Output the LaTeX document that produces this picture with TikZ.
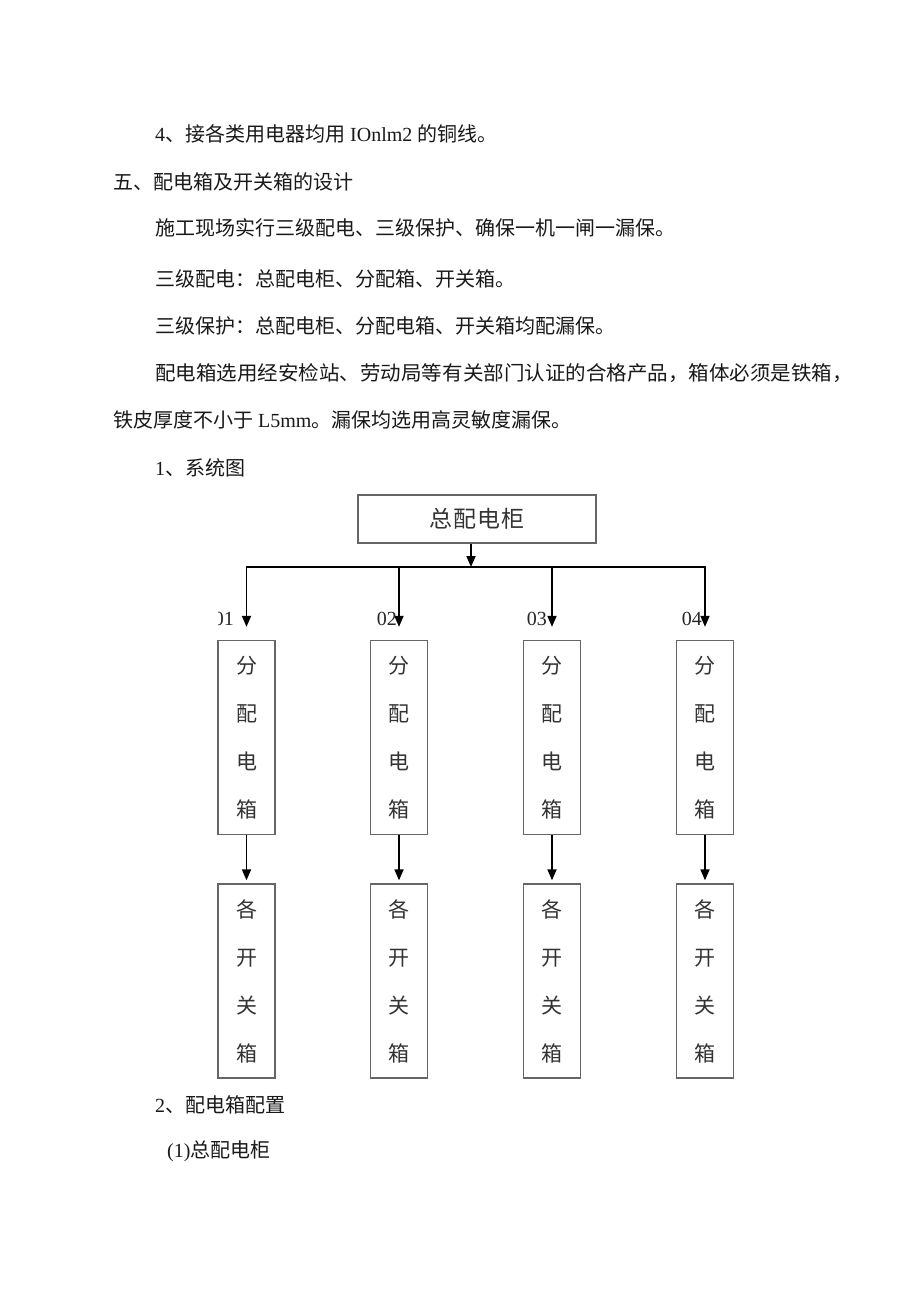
\documentclass[tikz,border=0pt]{standalone}
\usepackage{fontspec}
\setmainfont{Liberation Serif}
\newfontfamily\cjk{Noto Sans CJK SC}
\usetikzlibrary{arrows.meta,calc}
\begin{document}
\begin{tikzpicture}[x=1pt,y=-1pt,
  txt/.style={inner sep=0pt, anchor=base west, text=black!90, font=\fontsize{20pt}{24pt}\selectfont},
  box/.style={draw=black!60, line width=1.3pt, inner sep=0pt, text=black!80, align=center},
  tall/.style={box, minimum width=57pt, minimum height=194pt, font=\cjk\fontsize{21pt}{48pt}\selectfont},
  arr/.style={draw=black, line width=1.7pt, -{Triangle[length=11pt,width=9pt]}},
  lbl/.style={inner sep=0pt, anchor=base east, text=black!85, font=\fontsize{20pt}{24pt}\selectfont}]
\useasboundingbox[fill=white] (0,0) rectangle (920,1301);

% body text
\node[txt] (t1) at (155,141.5) {4{\cjk 、接各类用电器均用} IOnlm2 {\cjk 的铜线。}};
\node[txt] (t2) at (113,189.5) {\cjk 五、配电箱及开关箱的设计};
\node[txt] (t3) at (155,235.5) {\cjk 施工现场实行三级配电、三级保护、确保一机一闸一漏保。};
\node[txt] (t4) at (155,286) {\cjk 三级配电：总配电柜、分配箱、开关箱。};
\node[txt] (t5) at (155,333.5) {\cjk 三级保护：总配电柜、分配电箱、开关箱均配漏保。};
\node[txt] (t6) at (155,380.5) {\scalebox{1.026}[1]{\cjk 配电箱选用经安检站、劳动局等有关部门认证的合格产品，箱体必须是铁箱，}};
\node[txt] (t7) at (113,427.5) {{\cjk 铁皮厚度不小于} L5mm{\cjk 。漏保均选用高灵敏度漏保。}};
\node[txt] (t8) at (155,475.5) {1{\cjk 、系统图}};
\node[txt] (t9) at (155,1112.5) {2{\cjk 、配电箱配置}};
\node[txt] (t10) at (167,1157.5) {(1){\cjk 总配电柜}};

% diagram
\node[box, minimum width=238pt, minimum height=48pt, font=\cjk\fontsize{23pt}{24pt}\selectfont] (top) at (477,519) {总\hspace{1pt}配\hspace{1pt}电\hspace{1pt}柜};

\node[tall] (m1) at (246.5,737.5) {分\\配\\电\\箱};
\node[tall] (m2) at (399,737.5) {分\\配\\电\\箱};
\node[tall] (m3) at (552,737.5) {分\\配\\电\\箱};
\node[tall] (m4) at (705,737.5) {分\\配\\电\\箱};

\node[tall] (s1) at (246.5,981) {各\\开\\关\\箱};
\node[tall] (s2) at (399,981) {各\\开\\关\\箱};
\node[tall] (s3) at (552,981) {各\\开\\关\\箱};
\node[tall] (s4) at (705,981) {各\\开\\关\\箱};

\coordinate (bus) at (477,567);
\draw[arr] ([xshift=-6pt]top.south) -- ([xshift=-6pt]top.south |- bus);
\draw[line width=1.7pt, line cap=rect] (m1.north |- bus) -- (m4.north |- bus);
\foreach \i in {1,2,3,4}{
  \draw[arr] (m\i.north |- bus) -- ([yshift=13pt]m\i.north);
  \draw[arr, shorten >=3pt] (m\i.south) -- (s\i.north);
}

\begin{scope}
  \clip (218,590) rectangle (240,640);
  \node[lbl] (l1) at (234,625) {01};
\end{scope}
\node[lbl] (l2) at (397,625) {02};
\node[lbl] (l3) at (547,625) {03};
\node[lbl] (l4) at (702,625) {04};
\end{tikzpicture}
\end{document}
